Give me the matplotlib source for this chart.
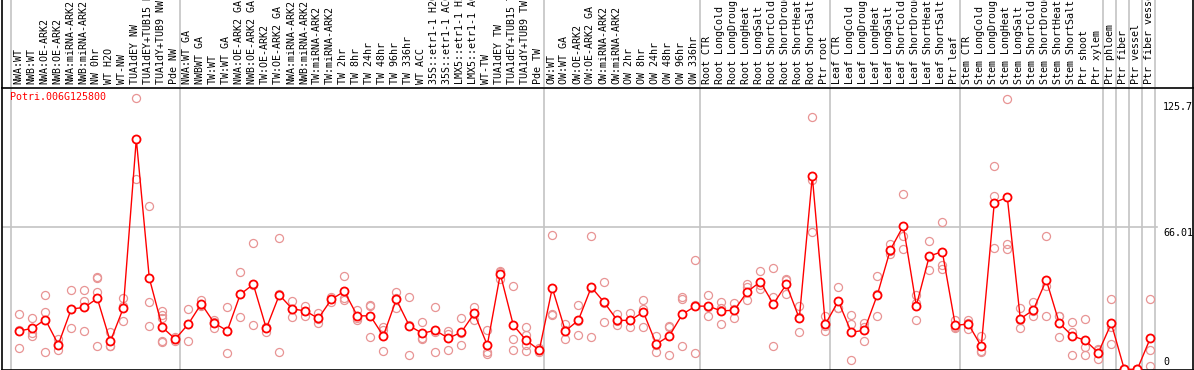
import matplotlib
matplotlib.use("Agg")
import matplotlib.pyplot as plt
import matplotlib.transforms as mtransforms

title = "Potri.006G125800"

labels = [
    "NWA:WT", "NWB:WT", "NWA:OE-ARK2", "NWB:OE-ARK2", "NWA:miRNA-ARK2", "NWB:miRNA-ARK2",
    "NW 0hr", "WT H2O", "WT-NW", "TUA1dEY NW", "TUA1dEY+TUB15 NW", "TUA1dY+TUB9 NW", "Pde NW",
    "NWA:WT GA", "NWBWT GA", "TW:WT", "TW:WT GA", "NWA:OE-ARK2 GA", "NWB:OE-ARK2 GA",
    "TW:OE-ARK2", "TW:OE-ARK2 GA", "NWA:miRNA-ARK2", "NWB:miRNA-ARK2", "TW:miRNA-ARK2",
    "TW:miRNA-ARK2", "TW 2hr", "TW 8hr", "TW 24hr", "TW 48hr", "TW 96hr", "TW 336hr",
    "WT ACC", "35S::etr1-1 H2O", "35S::etr1-1 ACC", "LMX5::etr1-1 H2O", "LMX5::etr1-1 ACC",
    "WT-TW", "TUA1dEY TW", "TUA1dEY+TUB15 TW", "TUA1dY+TUB9 TW", "Pde TW",
    "OW:WT", "OW:WT GA", "OW:OE-ARK2", "OW:OE-ARK2 GA", "OW:miRNA-ARK2", "OW:miRNA-ARK2",
    "OW 2hr", "OW 8hr", "OW 24hr", "OW 48hr", "OW 96hr", "OW 336hr",
    "Root CTR", "Root LongCold", "Root LongDrought", "Root LongHeat", "Root LongSalt",
    "Root ShortCold", "Root ShortDrought", "Root ShortHeat", "Root ShortSalt", "Ptr root",
    "Leaf CTR", "Leaf LongCold", "Leaf LongDrought", "Leaf LongHeat", "Leaf LongSalt",
    "Leaf ShortCold", "Leaf ShortDrought", "Leaf ShortHeat", "Leaf ShortSalt", "Ptr leaf",
    "Stem CTR", "Stem LongCold", "Stem LongDrought", "Stem LongHeat", "Stem LongSalt",
    "Stem ShortCold", "Stem ShortDrought", "Stem ShortHeat", "Stem ShortSalt",
    "Ptr shoot", "Ptr xylem", "Ptr phloem", "Ptr fiber", "Ptr vessel", "Ptr fiber vessel",
]

means = [
    17.8, 19.0, 23.1, 11.5, 28.0, 28.7, 32.9, 12.9, 28.4, 106.8, 42.3, 19.5, 14.0,
    21.0, 30.4, 21.4, 17.9, 34.8, 39.4, 19.0, 34.5, 28.0, 27.1, 23.6, 32.4, 36.2,
    24.8, 24.8, 15.5, 32.4, 20.2, 16.7, 18.1, 14.4, 17.2, 26.0, 11.2, 44.2, 20.5,
    13.4, 8.9,
    37.7, 17.8, 22.7, 38.1, 31.0, 22.7, 22.7, 26.6, 11.7, 15.5, 25.5, 29.3,
    29.3, 27.1, 27.4, 36.0, 40.6, 30.3, 39.4, 23.6, 89.5, 20.9,
    31.6, 17.2, 18.1, 34.5, 55.4, 66.5, 29.5, 52.5, 54.6, 20.4,
    21.0, 10.7, 77.3, 79.8, 23.4, 27.5, 41.4, 21.4, 15.5, 13.4, 7.7, 21.3, 0.0, 0.0, 14.4,
]

replicates = [
    [25.5, 18.2, 9.7], [23.7, 16.7, 15.6], [34.5, 26.7, 8.0], [14.1, 11.6, 8.9],
    [36.8, 28.2, 19.0], [36.8, 31.6, 17.9], [42.4, 42.9, 36.0, 10.8], [17.4, 10.8, 10.8],
    [33.3, 29.5, 22.2], [125.7, 88.1], [75.6, 31.0, 19.9], [27.0, 25.2, 23.6, 13.2, 12.8],
    [15.1, 13.9, 13.1],
    [28.0, 21.2, 13.2], [32.0, 30.0, 29.2], [22.8, 19.3, 22.1], [28.7, 17.6, 7.4],
    [45.2, 35.0, 24.2], [58.4, 39.3, 20.5], [19.8, 19.8, 17.4], [60.7, 34.8, 7.9],
    [31.6, 28.2, 24.2], [29.5, 27.2, 24.6], [26.3, 23.3, 21.3], [33.5, 32.4, 31.3],
    [43.1, 33.2, 32.1], [27.5, 24.0, 22.8], [29.5, 29.9, 14.9], [19.5, 18.4, 8.5],
    [35.7, 33.0, 28.6], [33.5, 20.4, 6.7], [21.8, 14.4, 13.9], [28.9, 17.4, 8.0],
    [17.8, 16.4, 8.9], [23.6, 16.7, 11.2], [29.0, 25.8, 23.1], [18.2, 8.2, 7.0],
    [45.8, 45.0, 41.7], [38.6, 13.9, 8.9], [19.8, 15.8, 11.3, 8.6], [9.8, 8.8, 8.1],
    [62.2, 25.5, 25.4], [21.0, 18.3, 14.1], [29.8, 22.6, 15.8], [61.8, 37.6, 14.9],
    [40.5, 30.7, 21.8], [25.5, 22.2, 20.5], [26.0, 22.7, 19.5], [32.1, 27.8, 19.5],
    [15.6, 11.4, 8.2], [19.8, 19.9, 6.7], [33.6, 32.6, 10.8], [50.7, 29.8, 7.4],
    [34.5, 28.9, 24.6], [31.0, 28.6, 20.8], [30.6, 27.9, 23.6], [39.4, 38.0, 32.1],
    [45.6, 39.0, 37.3], [46.9, 33.5, 10.7], [41.8, 41.6, 34.8], [29.3, 24.3, 17.4],
    [116.9, 88.0, 63.6], [24.8, 20.2, 17.8],
    [38.2, 28.3, 28.4], [25.2, 21.1, 4.2], [21.6, 19.5, 13.1], [43.5, 35.1, 24.8],
    [58.0, 54.8, 53.3], [81.1, 61.9, 55.7], [34.5, 30.9, 23.1], [59.5, 52.2, 45.9],
    [68.2, 48.4, 46.4], [22.8, 19.4, 19.0],
    [22.8, 21.6, 18.6], [15.6, 8.4, 8.2], [94.2, 80.4, 56.1], [125.5, 58.2, 55.8],
    [28.3, 22.7, 19.3], [31.0, 27.0, 24.5], [61.8, 38.5, 24.9], [24.8, 24.6, 15.0],
    [21.8, 17.4, 6.7], [23.3, 10.5, 6.7], [8.9, 9.2, 5.0], [32.6, 19.5, 11.8],
    [0.0, 0.0, 0.0], [0.0, 0.0, 0.0], [32.6, 8.8, 1.5],
]

# group boundaries (index of first item of each group / separators)
separators = [0, 13, 41, 53, 63, 73, 84, 85, 86, 87, 88]
ytick_vals = [125.7, 66.01, 0]
ytick_text = ["125.7", "66.01", "0"]

W, H = 1194, 370
fig = plt.figure(figsize=(W / 100, H / 100), dpi=100)

left_px, right_px = 2, 1193
x0_px, step_px = 19.3, 13.0
xlim = ((left_px - x0_px) / step_px, (right_px - x0_px) / step_px)

plot_top_px, plot_bot_px = 88, 369.5
ax = fig.add_axes([left_px / W, (H - plot_bot_px) / H,
                   (right_px - left_px) / W, (plot_bot_px - plot_top_px) / H])
axl = fig.add_axes([left_px / W, (H - 87) / H, (right_px - left_px) / W, 87 / H])

ax.set_xlim(*xlim)
ax.set_ylim(-0.09, 130.5)
axl.set_xlim(*xlim)
axl.set_ylim(0, 1)

grid_c = "#c4c4c4"
for s in separators:
    ax.axvline(s - 0.64, color=grid_c, lw=1.2, zorder=0)
    axl.axvline(s - 0.64, color=grid_c, lw=1.2, zorder=0)
gx_end = (1157 - left_px) / (right_px - left_px)
ax.axhline(66.01, xmin=0, xmax=gx_end, color=grid_c, lw=1.2, zorder=0)

xs = list(range(len(labels)))
rx, ry = [], []
for i, reps in enumerate(replicates):
    for r in reps:
        rx.append(i)
        ry.append(r)
ax.plot(rx, ry, ls="none", marker="o", ms=5.8, mfc="none", mec="#e89494",
        mew=0.9, zorder=2, clip_on=True)
ax.plot(xs, means, color="#ff0000", lw=1.0, zorder=3)
ax.plot(xs, means, ls="none", marker="o", ms=5.8, mfc="white", mec="#ff0000",
        mew=1.3, zorder=4)

mono = "DejaVu Sans Mono"
tr = mtransforms.blended_transform_factory(axl.transData, axl.transAxes)
for i, lab in enumerate(labels):
    axl.text(i - 0.1, 0.035, lab, rotation=90, ha="center", va="bottom",
             fontsize=7.2, family=mono, color="black", transform=tr, clip_on=True)

offsets = [-8.4, -5.7, 7.6]
for v, t, off in zip(ytick_vals, ytick_text, offsets):
    ax.annotate(t, xy=((1163 - left_px) / (right_px - left_px), v),
                xycoords=("axes fraction", "data"), xytext=(0, off),
                textcoords="offset pixels", ha="left", va="center",
                fontsize=7.2, family=mono, color="black")

ax.text((10 - left_px) / (right_px - left_px), (plot_bot_px - 97) / (plot_bot_px - plot_top_px),
        title, transform=ax.transAxes, ha="left", va="center", fontsize=7.2,
        family=mono, color="#ff0000")

for a in (ax, axl):
    a.set_xticks([])
    a.set_yticks([])
for sp in ax.spines.values():
    sp.set_color("black")
    sp.set_linewidth(1.2)
for name, sp in axl.spines.items():
    sp.set_visible(name in ("left", "right"))
    sp.set_color("black")
    sp.set_linewidth(1.2)

fig.savefig("out.png", dpi=100)
